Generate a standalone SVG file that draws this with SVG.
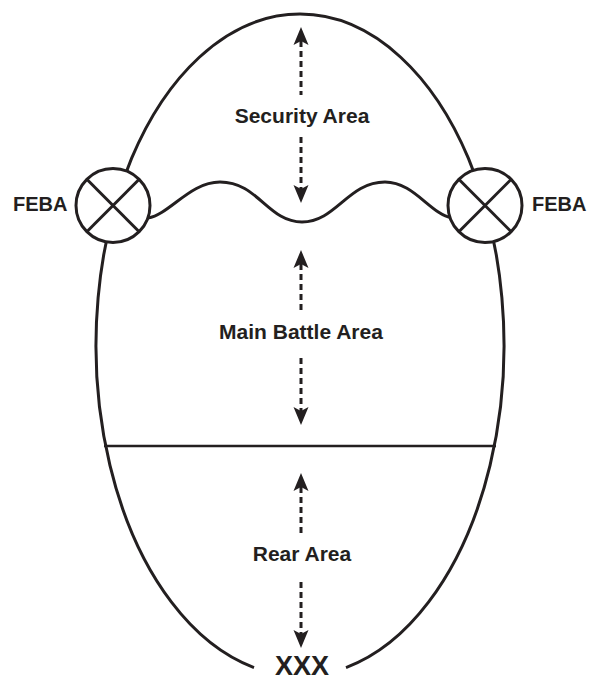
<svg xmlns="http://www.w3.org/2000/svg" width="590" height="681" viewBox="0 0 590 681">
<style>
.ln{fill:none;stroke:#231f20;stroke-width:3;stroke-linecap:butt}
.thin{fill:none;stroke:#231f20;stroke-width:2.5}
.circ{fill:#fff;stroke:#231f20;stroke-width:3}
.dash{fill:none;stroke:#231f20;stroke-width:3;stroke-dasharray:6 4}
.lbl{font-family:"Liberation Sans",Arial,sans-serif;font-weight:bold;font-size:21px;fill:#231f20;text-anchor:middle}
.feba{font-family:"Liberation Sans",Arial,sans-serif;font-weight:bold;font-size:20px;fill:#231f20}
.ah{fill:#231f20}
</style>
<defs>
<path id="head" d="M0,0 L7.5,18 L0,14 L-7.5,18 Z"/>
</defs>
<g id="outline">
<path class="ln" d="M254,667.6 A204,331 0 1 1 346,667.6"/>
<line class="thin" x1="104" y1="446" x2="496" y2="446"/>
</g>
<g id="feba-line">
<path class="ln" d="M148,218 C170,214 190,182 220,182 C258,182 268,222 302,222 C336,222 348,182 385,182 C414,182 430,214 452,218"/>
</g>
<g id="feba-left">
<circle class="circ" cx="113" cy="205.5" r="37"/>
<line class="ln" x1="86.8" y1="179.3" x2="139.2" y2="231.7"/>
<line class="ln" x1="139.2" y1="179.3" x2="86.8" y2="231.7"/>
<text class="feba" x="13" y="211">FEBA</text>
</g>
<g id="feba-right">
<circle class="circ" cx="485" cy="205.5" r="37"/>
<line class="ln" x1="458.8" y1="179.3" x2="511.2" y2="231.7"/>
<line class="ln" x1="511.2" y1="179.3" x2="458.8" y2="231.7"/>
<text class="feba" x="532" y="211">FEBA</text>
</g>
<g id="connectors">
<line class="dash" x1="301" y1="41" x2="301" y2="95"/>
<use href="#head" class="ah" transform="translate(301,27)"/>
<line class="dash" x1="301" y1="137" x2="301" y2="189"/>
<use href="#head" class="ah" transform="translate(301,203) rotate(180)"/>
<line class="dash" x1="301" y1="264" x2="301" y2="310"/>
<use href="#head" class="ah" transform="translate(301,250)"/>
<line class="dash" x1="301" y1="358" x2="301" y2="411"/>
<use href="#head" class="ah" transform="translate(301,425) rotate(180)"/>
<line class="dash" x1="301" y1="487" x2="301" y2="533"/>
<use href="#head" class="ah" transform="translate(301,473)"/>
<line class="dash" x1="301" y1="582" x2="301" y2="634"/>
<use href="#head" class="ah" transform="translate(301,648) rotate(180)"/>
</g>
<g id="security-area"><text class="lbl" x="302" y="123">Security Area</text></g>
<g id="main-battle-area"><text class="lbl" x="301" y="339">Main Battle Area</text></g>
<g id="rear-area"><text class="lbl" x="302" y="561">Rear Area</text></g>
<g id="xxx"><text class="lbl" x="302" y="675" style="font-size:27px">XXX</text></g>
</svg>
